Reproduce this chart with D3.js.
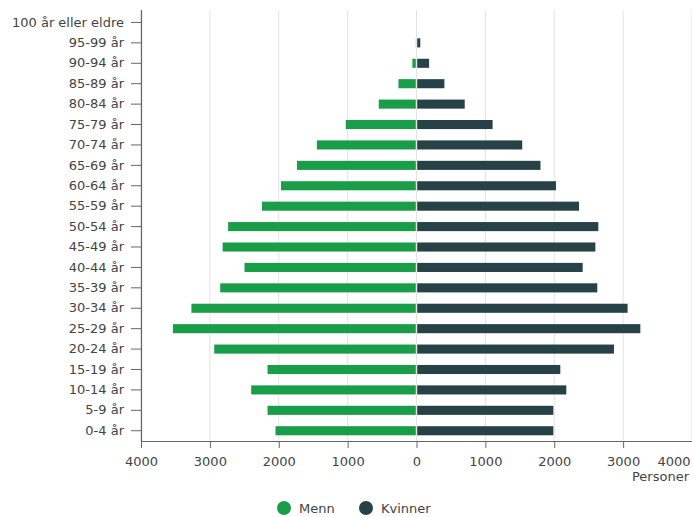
<!DOCTYPE html>
<html>
<head>
<meta charset="utf-8">
<script src="https://cdn.jsdelivr.net/npm/d3@7"></script>
<style>
  html, body { margin: 0; padding: 0; background: #fff; }
  svg { display: block; font-family: "DejaVu Sans", sans-serif; }
</style>
</head>
<body>
<svg id="chart" width="692" height="517"></svg>
<script>
// Age groups, oldest at the top
const ageGroups = ["100 år eller eldre", "95-99 år", "90-94 år", "85-89 år", "80-84 år", "75-79 år",
  "70-74 år", "65-69 år", "60-64 år", "55-59 år", "50-54 år", "45-49 år", "40-44 år", "35-39 år",
  "30-34 år", "25-29 år", "20-24 år", "15-19 år", "10-14 år", "5-9 år", "0-4 år"];

// Population by age group
const menn =    [3, 12, 60, 262, 548, 1027, 1447, 1735, 1968, 2243, 2735, 2815, 2497, 2850,
                 3268, 3537, 2937, 2163, 2400, 2163, 2047];
const kvinner = [8, 55, 183, 405, 700, 1105, 1535, 1800, 2025, 2360, 2640, 2597, 2413, 2625,
                 3065, 3250, 2867, 2088, 2175, 1987, 1987];

const xTicks = [-4000, -3000, -2000, -1000, 0, 1000, 2000, 3000, 4000];
const seriesNames = ["Menn", "Kvinner"];
const colors = { Menn: "#1a9d49", Kvinner: "#274247" };

const svg = d3.select("#chart");
const plotLeft = 141, plotRight = 692, plotTop = 10, plotBottom = 441;

const x = d3.scaleLinear().domain([-4000, 4000]).range([plotLeft, plotRight]);
const y = d3.scaleBand().domain(ageGroups).range([plotTop + 2.2, plotBottom]).paddingInner(0.555).paddingOuter(0.28);

// Vertical gridlines
svg.append("g")
  .selectAll("line")
  .data(xTicks)
  .join("line")
  .attr("x1", d => x(d)).attr("x2", d => x(d))
  .attr("y1", plotTop).attr("y2", plotBottom)
  .attr("stroke", "#e3e3e3")
  .attr("stroke-width", 1);

// Bars: men to the left of zero, women to the right
const gap = 0.7;
svg.append("g")
  .selectAll("rect")
  .data(ageGroups.map((g, i) => ({ g, v: menn[i] })))
  .join("rect")
  .attr("x", d => x(-d.v))
  .attr("y", d => y(d.g))
  .attr("width", d => Math.max(0, x(0) - x(-d.v) - gap))
  .attr("height", y.bandwidth())
  .attr("fill", colors.Menn);

svg.append("g")
  .selectAll("rect")
  .data(ageGroups.map((g, i) => ({ g, v: kvinner[i] })))
  .join("rect")
  .attr("x", x(0) + gap)
  .attr("y", d => y(d.g))
  .attr("width", d => Math.max(0, x(d.v) - x(0) - gap))
  .attr("height", y.bandwidth())
  .attr("fill", colors.Kvinner);

// Y axis
const yAxis = svg.append("g")
  .attr("transform", `translate(${plotLeft},0)`)
  .call(d3.axisLeft(y).tickSize(10).tickPadding(7).tickSizeOuter(0));
yAxis.select(".domain").attr("stroke", "#666").attr("stroke-width", 1.2)
  .attr("d", `M0.5,${plotTop}V${plotBottom}`);
yAxis.selectAll(".tick line").attr("stroke", "#666");
yAxis.selectAll(".tick text").attr("fill", "#444").style("font-size", "13px")
  .style("font-family", "'DejaVu Sans', sans-serif");

// X axis
const xAxis = svg.append("g")
  .attr("transform", `translate(0,${plotBottom})`)
  .call(d3.axisBottom(x).tickValues(xTicks).tickFormat(d => String(Math.abs(d)))
    .tickSize(7).tickPadding(9).tickSizeOuter(0));
xAxis.select(".domain").attr("stroke", "#666").attr("stroke-width", 1.2);
xAxis.selectAll(".tick line").attr("stroke", "#666");
xAxis.selectAll(".tick text").attr("fill", "#444").style("font-size", "13px")
  .style("font-family", "'DejaVu Sans', sans-serif");
// keep the last label inside the frame
xAxis.selectAll(".tick").filter(d => d === 4000).select("text")
  .attr("text-anchor", "end").attr("dx", -2);
xAxis.selectAll(".tick").filter(d => d === 4000).select("line").remove();

// Axis title
svg.append("text")
  .attr("x", 689).attr("y", 481)
  .attr("text-anchor", "end")
  .attr("fill", "#444")
  .style("font-size", "13px")
  .text("Personer");

// Legend
const legendX = [284, 366];
const legend = svg.append("g")
  .selectAll("g")
  .data(seriesNames)
  .join("g")
  .attr("transform", (d, i) => `translate(${legendX[i]},508)`);
legend.append("circle").attr("r", 7).attr("fill", d => colors[d]);
legend.append("text")
  .attr("x", 15).attr("y", 5)
  .attr("fill", "#444")
  .style("font-size", "13px")
  .text(d => d);
</script>
</body>
</html>
